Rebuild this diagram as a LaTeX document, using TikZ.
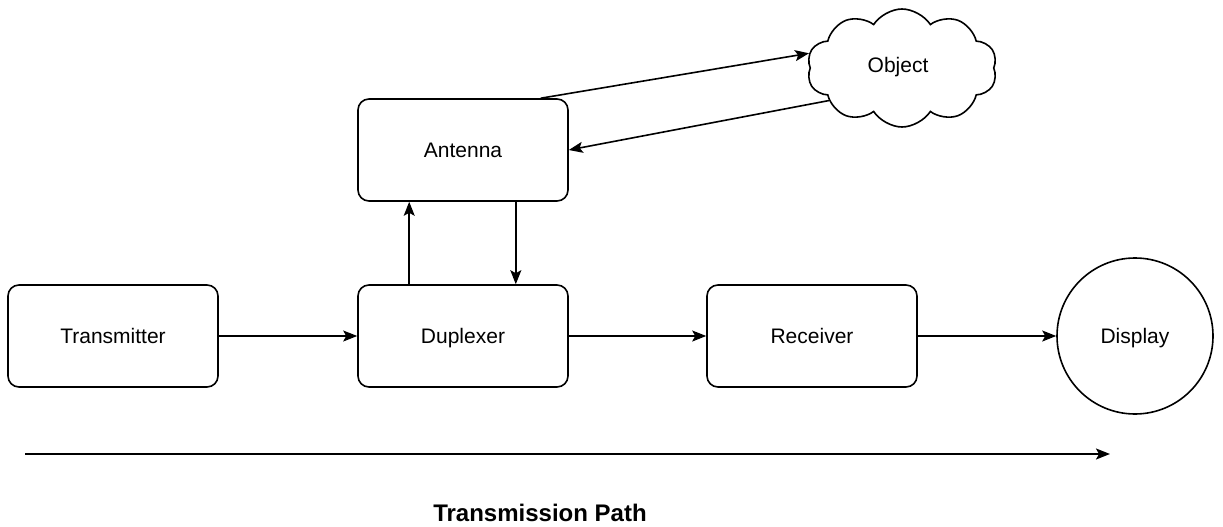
\documentclass[tikz,border=0pt]{standalone}
\usepackage{fontspec}
\setmainfont{Liberation Sans}
\usetikzlibrary{arrows.meta,shapes.symbols,calc}

\begin{document}
\begin{tikzpicture}[x=1pt,y=-1pt,
  every node/.style={font=\fontsize{21}{25}\selectfont},
  label text/.style={text height=17pt, text depth=3pt},
  blockbox/.style={draw, line width=1.6pt, rounded corners=11pt,
    minimum width=210pt, minimum height=102pt, inner sep=0pt, label text},
  link/.style={line width=1.6pt, -{Stealth[length=14pt,width=11pt,inset=3pt]}}
]
\useasboundingbox (0,0) rectangle (1223,527);

% processing blocks
\node[blockbox] (tx)  at (113,336) {Transmitter};
\node[blockbox] (dup) at (463,336) {Duplexer};
\node[blockbox] (ant) at (463,150) {Antenna};
\node[blockbox] (rx)  at (812,336) {Receiver};
\node[draw, circle, line width=1.6pt, minimum size=156pt, inner sep=0pt, label text] (disp) at (1135,336) {Display};
\node[draw, cloud, cloud puffs=10, cloud puff arc=115, aspect=1.6,
      line width=1.6pt, minimum width=190pt, minimum height=118pt, inner sep=0pt] (obj) at (902,68) {};
\node[label text] (objtxt) at (898,66) {Object};

% signal chain
\draw[link] (tx) -- (dup);
\draw[link] (dup) -- (rx);
\draw[link] (rx) -- (disp);
\draw[link] ([xshift=52pt]dup.north west) -- ([xshift=52pt]ant.south west);
\draw[link] ([xshift=-53pt]ant.south east) -- ([xshift=-53pt]dup.north east);

% radio link to the target
\draw[link] ([xshift=-28pt]ant.north east) -- (obj.171);
\draw[link] (obj.204) -- (ant.east);

% overall direction
\coordinate (pathstart) at (25,454);
\coordinate (pathend) at (1110,454);
\draw[link] (pathstart) -- (pathend);
\node[font=\fontsize{24}{28}\selectfont\bfseries] (pathlabel) at (540,513) {Transmission Path};
\end{tikzpicture}
\end{document}
